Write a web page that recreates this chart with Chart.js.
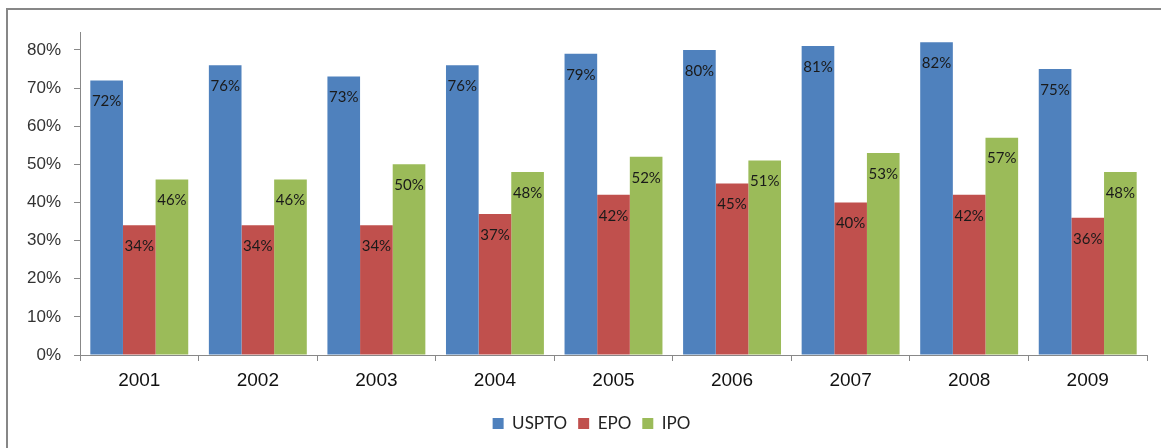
<!DOCTYPE html>
<html>
<head>
<meta charset="utf-8">
<script src="https://cdn.jsdelivr.net/npm/chart.js@4/dist/chart.umd.min.js"></script>
<style>
  html, body { margin: 0; padding: 0; background: #fff; overflow: hidden; }
  #wrap { position: relative; width: 1161px; height: 448px; }
  #frame { position: absolute; left: 6px; top: 8px; width: 1200px; height: 500px;
           border-left: 2px solid #878787; border-top: 2px solid #878787; }
  canvas { position: absolute; left: 0; top: 0; }
</style>
</head>
<body>
<div id="wrap">
  <div id="frame"></div>
  <canvas id="chart" width="1161" height="448"></canvas>
</div>
<script>
// ---------- 数据 ----------
const years = ['2001','2002','2003','2004','2005','2006','2007','2008','2009'];
const usptoRates = [72, 76, 73, 76, 79, 80, 81, 82, 75];
const epoRates   = [34, 34, 34, 37, 42, 45, 40, 42, 36];
const ipoRates   = [46, 46, 50, 48, 52, 51, 53, 57, 48];
const yTicks = [0, 10, 20, 30, 40, 50, 60, 70, 80];

// ---------- 柱内数值标签 ----------
const barLabels = {
  id: 'barLabels',
  afterDatasetsDraw(chart) {
    const ctx = chart.ctx;
    ctx.save();
    ctx.font = '15px Lato, "Liberation Sans", sans-serif';
    ctx.fillStyle = '#1a1a1a';
    ctx.textAlign = 'center';
    ctx.textBaseline = 'middle';
    chart.data.datasets.forEach((ds, i) => {
      chart.getDatasetMeta(i).data.forEach((bar, j) => {
        ctx.fillText(ds.data[j] + '%', bar.x, bar.y + 21);
      });
    });
    ctx.restore();
  }
};

// 图例整体右移、下移一点
const legendShift = {
  id: 'legendShift',
  afterLayout(chart) {
    chart.legend.left += 18;
    chart.legend.right += 18;
    chart.legend.top += 3;
    chart.legend.bottom += 3;
  }
};

const ctx = document.getElementById('chart').getContext('2d');
new Chart(ctx, {
  type: 'bar',
  data: {
    labels: years,
    datasets: [
      { label: 'USPTO', data: usptoRates, backgroundColor: '#4F81BD' },
      { label: 'EPO',   data: epoRates,   backgroundColor: '#C0504D' },
      { label: 'IPO',   data: ipoRates,   backgroundColor: '#9BBB59' }
    ]
  },
  options: {
    responsive: false,
    animation: false,
    layout: { padding: { left: 0, right: 14, top: 32, bottom: 9 } },
    datasets: { bar: { categoryPercentage: 0.826, barPercentage: 1 } },
    plugins: {
      tooltip: { enabled: false },
      legend: {
        position: 'bottom',
        labels: {
          boxWidth: 11, boxHeight: 11, padding: 11,
          color: '#222',
          font: { family: 'Lato, "Liberation Sans", sans-serif', size: 17 }
        }
      }
    },
    scales: {
      x: {
        grid: { drawOnChartArea: false, tickLength: 6, color: '#888', offset: true },
        border: { color: '#888', width: 1 },
        ticks: { color: '#111', padding: 8, font: { family: '"Liberation Sans", Arial, sans-serif', size: 19 } },
        afterFit(s) { s.height = 46; }
      },
      y: {
        min: 0, max: 84.7,
        afterBuildTicks(s) { s.ticks = yTicks.map(v => ({ value: v })); },
        grid: { drawOnChartArea: false, tickLength: 6, color: '#888' },
        border: { color: '#888', width: 1 },
        ticks: {
          color: '#333', padding: 13,
          font: { family: '"Liberation Sans", Arial, sans-serif', size: 17 },
          callback: v => v + '%'
        },
        afterFit(s) { s.width = 80; }
      }
    }
  },
  plugins: [barLabels, legendShift]
});
</script>
</body>
</html>
